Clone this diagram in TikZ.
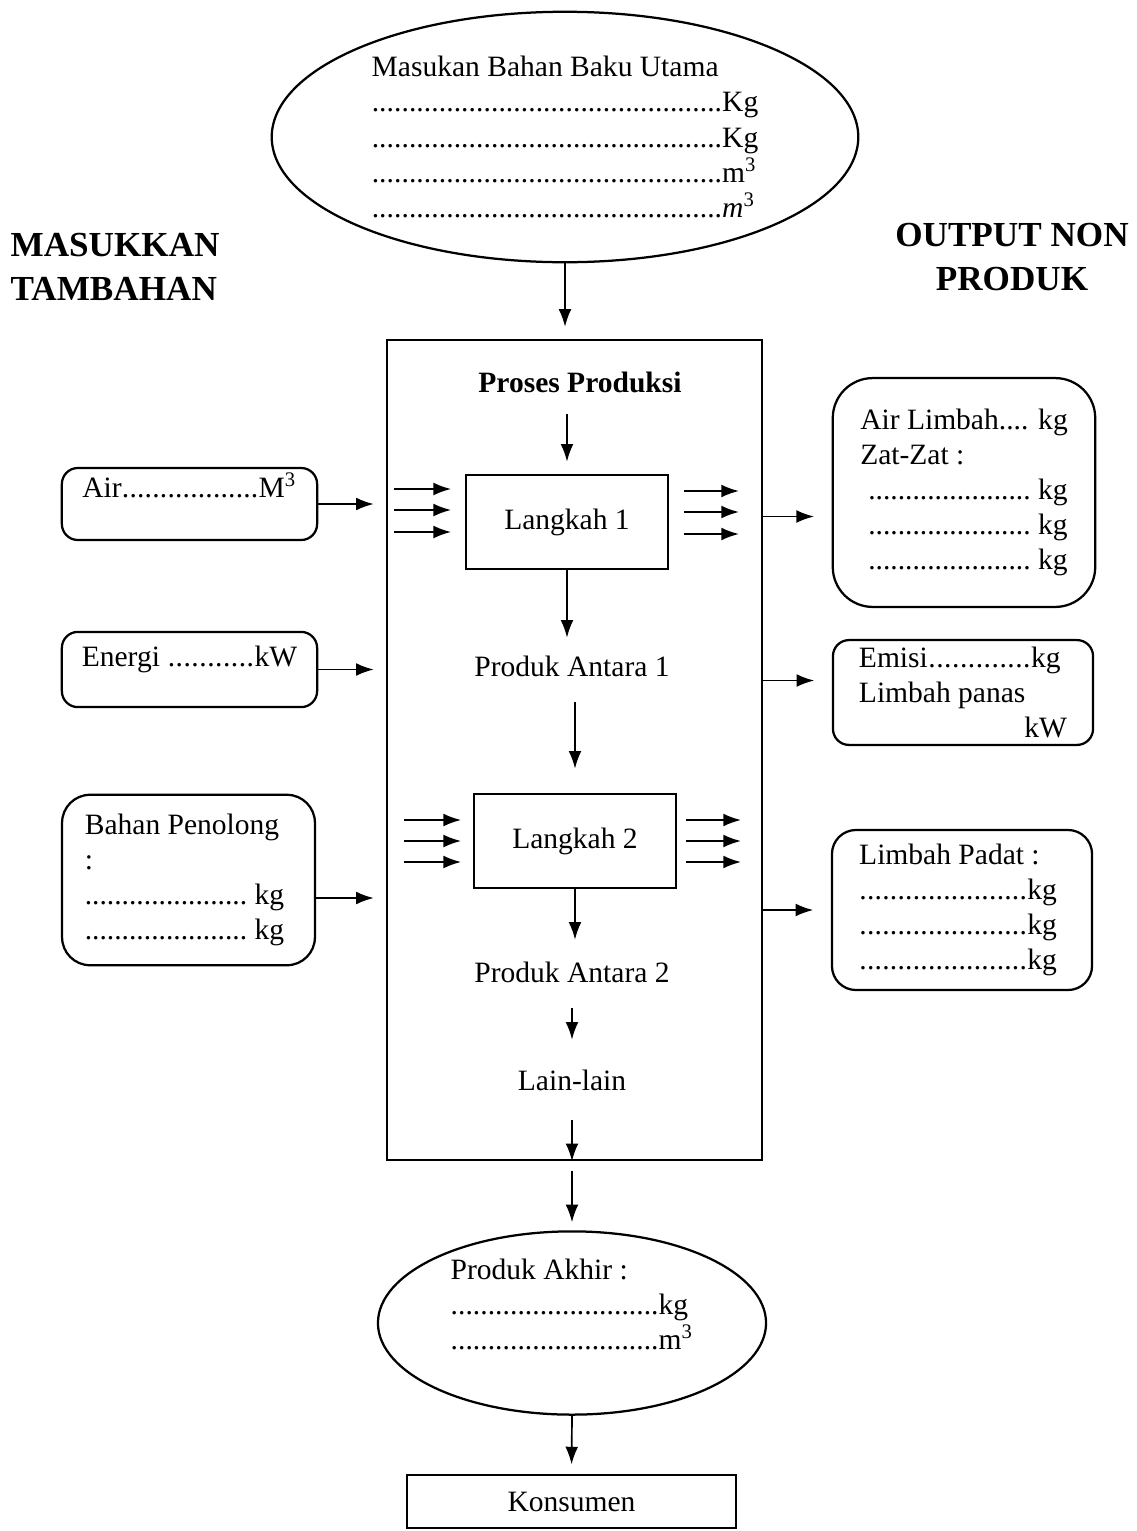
\documentclass[tikz,border=0pt]{standalone}
\usepackage{fontspec}
\setmainfont{Liberation Serif}
\usetikzlibrary{arrows.meta,calc,shapes.geometric}

\newcommand{\titik}[1]{\makebox[#1]{\xleaders\hbox{.}\hfill}}

\begin{document}
\begin{tikzpicture}[
    x=0.0125cm,
    y=-0.0125cm,
    every node/.style={
        font=\fontsize{10.5}{12.5}\selectfont
    },
    kotak/.style={
        rectangle,
        draw,
        thick,
        rounded corners=0.2cm,
        align=left,
        inner sep=0pt
    },
    oval/.style={
        ellipse,
        draw,
        thick,
        align=left,
        inner sep=0pt
    },
    langkah/.style={
        rectangle,
        draw,
        thick,
        minimum width=2.52cm,
        minimum height=1.18cm
    },
    judul/.style={
        font=\fontsize{12.5}{15.5}\selectfont\bfseries
    },
    arrow/.style={
        -{Latex[length=2.2mm,width=1.6mm]},
        semithick
    }
]

\useasboundingbox (0,0) rectangle (1137,1531);

\node[oval, minimum width=7.33cm, minimum height=3.13cm] (masukan) at (565,137)
    {Masukan Bahan Baku Utama\\
     \titik{4.38cm}Kg\\
     \titik{4.38cm}Kg\\
     \titik{4.38cm}m\textsuperscript{3}\\
     \titik{4.38cm}\textit{m}\textsuperscript{3}};

\node[judul, align=left, anchor=west, inner sep=0pt] (tambahan) at (10,267) {MASUKKAN\\TAMBAHAN};
\node[judul, align=center] (nonproduk) at (1012,257) {OUTPUT NON\\PRODUK};

\node[rectangle, draw, thick, minimum width=4.69cm, minimum height=10.25cm] (proses) at (574.5,750) {};
\node[font=\fontsize{10.5}{12.5}\selectfont\bfseries] (judulproses) at (580,382) {Proses Produksi};

\node[langkah] (langkah1) at (567,522) {Langkah 1};
\node (antara1) at (572,666) {Produk Antara 1};
\node[langkah] (langkah2) at (575,841) {Langkah 2};
\node (antara2) at (572,972) {Produk Antara 2};
\node (lain) at (572,1080) {Lain-lain};

\node[oval, minimum width=4.85cm, minimum height=2.29cm] (akhir) at (572,1323)
    {Produk Akhir :\\
     \titik{2.6cm}kg\\
     \titik{2.6cm}m\textsuperscript{3}\hspace*{0.2cm}\\[-0.1cm]
     \strut};
\node[rectangle, draw, thick, minimum width=4.11cm, minimum height=0.66cm] (konsumen) at (571.5,1501.5) {Konsumen};

% masukan tambahan
\node[kotak, minimum width=3.19cm, minimum height=0.9cm] (air) at (189.5,504)
    {Air\titik{1.71cm}M\textsuperscript{3}\\[-0.1cm] \strut};
\node[kotak, minimum width=3.19cm, minimum height=0.94cm] (energi) at (189.5,669.5)
    {Energi \titik{1.09cm}kW\\[-0.25cm] \strut};
\node[kotak, rounded corners=0.35cm, minimum width=3.16cm, minimum height=2.13cm] (penolong) at (188.5,880)
    {Bahan Penolong\\
     :\\
     \titik{2.03cm} kg\\
     \titik{2.03cm} kg\hspace*{0.1cm}};

% output non produk
\node[kotak, rounded corners=0.5cm, minimum width=3.28cm, minimum height=2.86cm] (limbahair) at (964,492.5)
    {Air Limbah.... kg\\
     Zat-Zat :\\
     \hspace*{0.1cm}\titik{2.03cm} kg\\
     \hspace*{0.1cm}\titik{2.03cm} kg\\
     \hspace*{0.1cm}\titik{2.03cm} kg};
\node[kotak, minimum width=3.25cm, minimum height=1.31cm] (emisi) at (963,692.5)
    {Emisi\titik{1.29cm}kg\\
     Limbah panas\\
     \makebox[2.6cm][r]{kW}};
\node[kotak, rounded corners=0.3cm, minimum width=3.25cm, minimum height=2cm] (padat) at (962,910)
    {Limbah Padat :\\
     \titik{2.1cm}kg\\
     \titik{2.1cm}kg\\
     \titik{2.1cm}kg\hspace*{0.1cm}};

% alur utama
\draw[arrow, shorten >=0.15cm] (masukan.south) -- (masukan.south |- proses.north);
\draw[arrow, shorten <=0.15cm, shorten >=0.15cm] (langkah1.north |- judulproses.south) -- (langkah1.north);
\draw[arrow, shorten >=0.1cm] (langkah1.south) -- (langkah1.south |- antara1.north);
\draw[arrow, shorten <=0.2cm, shorten >=0.3cm] (langkah2.north |- antara1.south) -- (langkah2.north);
\draw[arrow, shorten >=0.15cm] (langkah2.south) -- (langkah2.south |- antara2.north);
\draw[arrow, shorten <=0.2cm, shorten >=0.25cm] (antara2.south) -- (lain.north);
\draw[arrow, shorten <=0.25cm] (lain.south) -- (lain.south |- proses.south);
\draw[arrow, shorten <=0.12cm, shorten >=0.1cm] (proses.south -| akhir.north) -- (akhir.north);
\draw[arrow, shorten >=0.12cm] (akhir.south) -- (konsumen.north);

% panah kecil di sisi langkah
\foreach \dy in {-33,-12,10} {
    \draw[arrow] ($(langkah1.west)+(-71,\dy)$) -- ($(langkah1.west)+(-14,\dy)$);
    \draw[arrow] ($(langkah1.east)+(15,\dy+2)$) -- ($(langkah1.east)+(70,\dy+2)$);
}
\foreach \dy in {-21,0,21} {
    \draw[arrow] ($(langkah2.west)+(-69,\dy)$) -- ($(langkah2.west)+(-12,\dy)$);
    \draw[arrow] ($(langkah2.east)+(9,\dy)$) -- ($(langkah2.east)+(64,\dy)$);
}

% masukan tambahan ke proses
\coordinate (p1) at ($(penolong.east)+(0,18)$);
\draw[arrow, shorten >=0.15cm] (air.east) -- (air.east -| proses.west);
\draw[arrow, shorten >=0.15cm] (energi.east) -- (energi.east -| proses.west);
\draw[arrow, shorten >=0.15cm] (p1) -- (p1 -| proses.west);

% proses ke output non produk
\coordinate (o1) at ($(limbahair.west)+(0,24)$);
\coordinate (o2) at ($(emisi.west)+(0,-12)$);
\draw[arrow, shorten >=0.22cm] (o1 -| proses.east) -- (o1);
\draw[arrow, shorten >=0.22cm] (o2 -| proses.east) -- (o2);
\draw[arrow, shorten >=0.22cm] (proses.east |- padat.west) -- (padat.west);

\end{tikzpicture}
\end{document}
